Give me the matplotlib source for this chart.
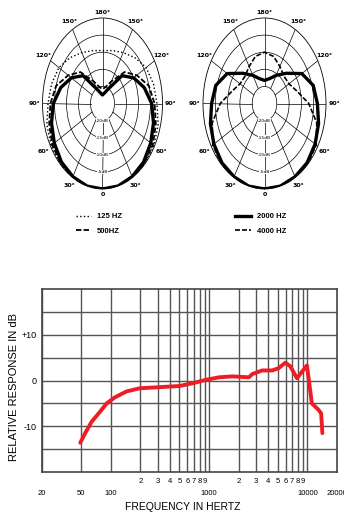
import numpy as np
import matplotlib
matplotlib.use('Agg')
import matplotlib.pyplot as plt

plt.rcParams['font.family'] = ['Liberation Sans', 'DejaVu Sans']

# polar response, dB relative to on-axis, sampled every 15 deg from 0 to 180 (symmetric)
polar_angles = [0, 15, 30, 45, 60, 75, 90, 105, 120, 135, 150, 165, 180]
db_125 = [0, 0, 0, 0, -0.3, -1.0, -2.3, -3.0, -4.0, -6.0, -7.8, -9.0, -9.5]
db_500 = [0, 0, 0, -0.3, -0.8, -2.0, -3.3, -5.0, -8.5, -12.0, -17.5, -20.0, -20.8]
db_1000 = [0, 0, -0.3, -0.8, -1.8, -3.0, -4.5, -7.0, -10.0, -13.5, -20.0, -21.8, -22.5]
db_2000 = [0, 0, -0.25, -0.5, -1.25, -2.25, -3.5, -4.5, -7.5, -12.5, -15.5, -17.5, -18.25]
db_4000 = [0, 0, 0, 0, -0.75, -3.0, -7.0, -11.25, -13.5, -13.75, -12.5, -10.75, -10.0]

angle_ticks = [0, 30, 60, 90, 120, 150, 180, 210, 240, 270, 300, 330]
angle_labels = ['0', '30°', '60°', '90°', '120°', '150°', '180°',
                '150°', '120°', '90°', '60°', '30°']
ring_db = [-5, -10, -15, -20]

# frequency response
freq = [49, 55, 64, 78, 91, 110, 144, 197, 290, 500, 680, 930, 1265, 1730,
        2540, 2750, 3470, 4380, 5100, 5970, 6700, 7830, 9890, 11100, 12950,
        13800, 14200]
resp = [-13.6, -11.5, -9.0, -6.8, -5.0, -3.7, -2.4, -1.7, -1.5, -1.2, -0.6,
        0.15, 0.7, 0.9, 0.7, 1.4, 2.2, 2.2, 2.7, 3.9, 3.1, 0.5, 3.3, -5.0,
        -6.4, -7.2, -11.5]

x_major = [20, 50, 100, 1000, 10000, 20000]
x_major_labels = ['20', '50', '100', '1000', '10000', '20000']
x_minor = [200, 300, 400, 500, 600, 700, 800, 900,
           2000, 3000, 4000, 5000, 6000, 7000, 8000, 9000]
x_minor_labels = ['2', '3', '4', '5', '6', '7', '8', '9'] * 2


def db_to_r(db):
    return (np.asarray(db, dtype=float) + 25.0) / 25.0


def full_circle(db):
    a = np.asarray(polar_angles, dtype=float)
    th = np.deg2rad(np.concatenate([a, 360 - a[::-1]]))
    r = db_to_r(db)
    return th, np.concatenate([r, r[::-1]])


def polar_frame(rect):
    ax = fig.add_axes(rect, projection='polar')
    ax.set_aspect('auto')
    ax.set_theta_zero_location('S')
    ax.set_ylim(0, 1.0)
    ax.set_xticks([])
    ax.set_yticks(db_to_r(ring_db))
    ax.set_yticklabels([])
    ax.yaxis.grid(True, color='black', lw=0.5)
    ax.spines['polar'].set_linewidth(0.6)
    for a in range(0, 360, 30):
        ax.plot([np.deg2rad(a)] * 2, [0.2, 1.0], color='black', lw=0.5)
    # angle labels sit just outside the rim, a bit further out at the sides
    for a, lab in zip(angle_ticks, angle_labels):
        side = abs(np.sin(np.deg2rad(a)))
        ax.text(np.deg2rad(a), 1.07 + 0.07 * side, lab, fontsize=4.5,
                ha='center', va='center', family='DejaVu Sans',
                fontweight='bold', clip_on=False)
    for d in ring_db:
        ax.text(0, db_to_r(d), '%ddB' % d, fontsize=3.2, ha='center',
                va='center', family='DejaVu Sans',
                bbox=dict(facecolor='white', edgecolor='none', pad=0.2))
    return ax


fig = plt.figure(figsize=(3.44, 5.15), dpi=100)

# left polar: 125 / 500 Hz
ax1 = polar_frame([42.5 / 344, 1 - 189 / 515, 120 / 344, 171 / 515])
l125, = ax1.plot(*full_circle(db_125), color='black', lw=1.0, ls=':')
l500, = ax1.plot(*full_circle(db_500), color='black', lw=1.3, dashes=(3, 1.2))
ax1.plot(*full_circle(db_1000), color='black', lw=2.4)
ax1.legend([l125, l500], ['125 HZ', '500HZ'], loc='upper center',
           bbox_to_anchor=(0.47, -0.1), frameon=False, handlelength=2.0,
           labelspacing=0.9, prop={'weight': 'bold', 'size': 5.5})

# right polar: 2000 / 4000 Hz
ax2 = polar_frame([203 / 344, 1 - 189 / 515, 123 / 344, 171 / 515])
l2000, = ax2.plot(*full_circle(db_2000), color='black', lw=2.4)
l4000, = ax2.plot(*full_circle(db_4000), color='black', lw=1.2, dashes=(3, 1.2))
ax2.legend([l2000, l4000], ['2000 HZ', '4000 HZ'], loc='upper center',
           bbox_to_anchor=(0.47, -0.1), frameon=False, handlelength=2.0,
           labelspacing=0.9, prop={'weight': 'bold', 'size': 5.5})

# frequency response chart
ax = fig.add_axes([42 / 344, 1 - 472 / 515, 295 / 344, 183 / 515])
ax.set_xscale('log')
ax.set_xlim(20, 20000)
ax.set_ylim(-20, 20)
for f in [20, 50, 100] + x_minor + [1000, 10000]:
    ax.axvline(f, color='#555555', lw=1.0)
for d in range(-15, 20, 5):
    ax.axhline(d, color='#555555', lw=1.0)
ax.plot(freq, resp, color='#ee1c25', lw=2.8, solid_capstyle='round')

ax.set_xticks(x_major)
ax.set_xticklabels(x_major_labels)
ax.set_xticks(x_minor, minor=True)
ax.set_xticklabels(x_minor_labels, minor=True)
ax.tick_params(axis='x', which='major', length=0, pad=13, labelsize=5.5)
ax.tick_params(axis='x', which='minor', length=0, pad=4, labelsize=5.5)
ax.set_yticks([10, 0, -10])
ax.set_yticklabels(['+10', '0', '-10'])
ax.tick_params(axis='y', length=0, pad=4, labelsize=6.5)
for s in ax.spines.values():
    s.set_color('#444444')
    s.set_linewidth(1.2)

fig.text(14 / 344, 1 - 387 / 515, 'RELATIVE RESPONSE IN dB', rotation=90,
         ha='center', va='center', fontsize=8)
fig.text(183 / 344, 1 - 507 / 515, 'FREQUENCY IN HERTZ', ha='center',
         va='center', fontsize=7.5)

fig.savefig('out.png', dpi=100)
